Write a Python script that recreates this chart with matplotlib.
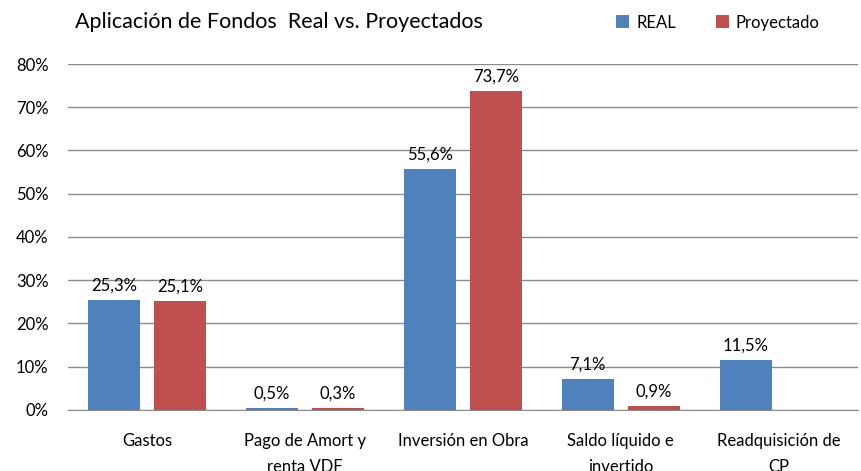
import matplotlib.pyplot as plt
import numpy as np

categorias = ['Gastos', 'Pago de Amort y\nrenta VDF', 'Inversión en Obra',
              'Saldo líquido e\ninvertido', 'Readquisición de\nCP']
real = [25.3, 0.5, 55.6, 7.1, 11.5]
proyectado = [25.1, 0.3, 73.7, 0.9, None]

azul = '#4F81BD'
rojo = '#C0504D'

plt.rcParams['font.family'] = ['Lato', 'DejaVu Sans']

fig = plt.figure(figsize=(8.62, 4.71), dpi=100)
ax = fig.add_axes([0.079, 0.13, 0.916, 0.734])

x = np.arange(len(categorias))
ancho = 0.33
off = 0.21

ax.bar(x - off, real, ancho, color=azul, label='REAL', zorder=3)
pv = [np.nan if v is None else v for v in proyectado]
ax.bar(x + off, pv, ancho, color=rojo, label='Proyectado', zorder=3)

for xi, v in zip(x, real):
    ax.text(xi - off, v + 1.5, f'{v:.1f}%'.replace('.', ','), ha='center', va='bottom', fontsize=12)
for xi, v in zip(x, proyectado):
    if v is not None:
        ax.text(xi + off, v + 1.5, f'{v:.1f}%'.replace('.', ','), ha='center', va='bottom', fontsize=12)

ax.set_xlim(-0.5, len(categorias) - 0.5)
ax.set_ylim(0, 80)
ax.set_yticks(range(0, 81, 10))
ax.set_yticklabels([f'{t}%' for t in range(0, 81, 10)], fontsize=12)
ax.set_xticks(x)
ax.set_xticklabels(categorias, fontsize=12, linespacing=1.75)
ax.tick_params(axis='x', length=0, pad=17)
ax.tick_params(axis='y', length=0, pad=14)
ax.grid(axis='y', color='#8c8c8c', linewidth=1, zorder=0)
for s in ['top', 'right', 'left']:
    ax.spines[s].set_visible(False)
ax.spines['bottom'].set_color('#8c8c8c')

fig.text(0.087, 0.953, 'Aplicación de Fondos  Real vs. Proyectados', fontsize=15.5, va='center')
ax.legend(loc='center left', bbox_to_anchor=(0.675, 1.12), ncol=2, frameon=False,
          fontsize=12, handlelength=0.8, handleheight=0.8, handletextpad=0.4, columnspacing=2.4)

plt.savefig('out.png')
